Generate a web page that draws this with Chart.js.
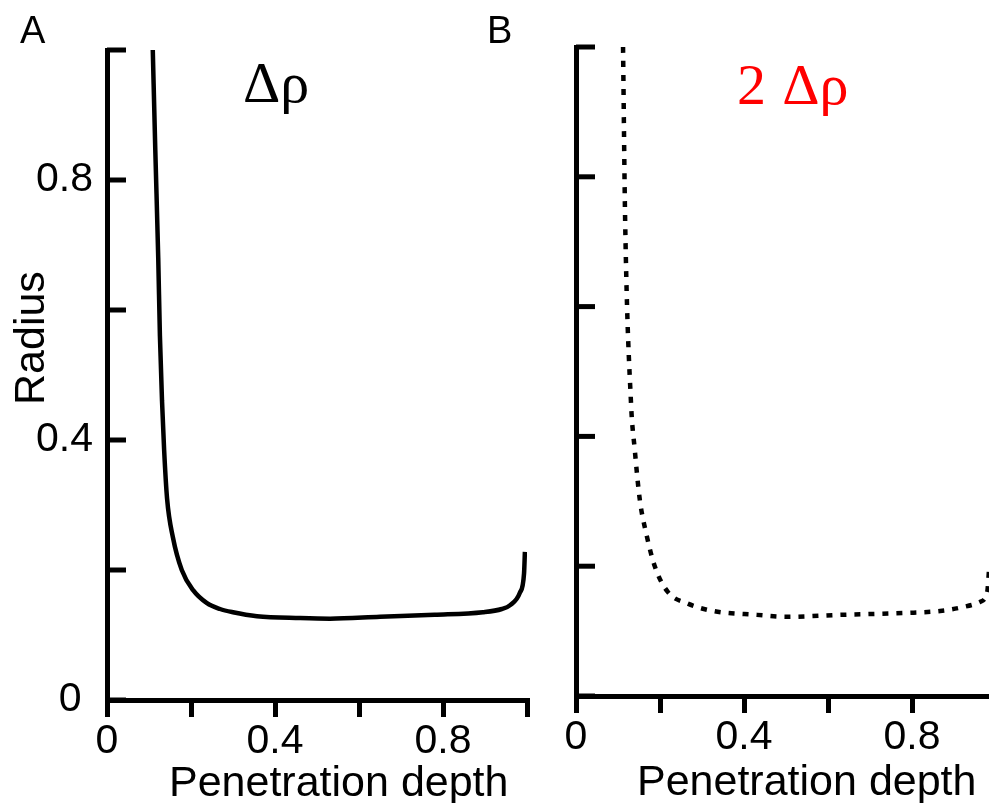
<!DOCTYPE html>
<html>
<head>
<meta charset="utf-8">
<script src="https://cdn.jsdelivr.net/npm/chart.js@4.4.1/dist/chart.umd.min.js"></script>
<style>
  html, body { margin: 0; padding: 0; background: #fff; overflow: hidden; }
  #page { position: relative; width: 989px; height: 803px; overflow: hidden; }
  .txt { position: absolute; line-height: 1; white-space: nowrap; color: #000; }
  .sans { font-family: "Liberation Sans", Arial, sans-serif; }
  .serif { font-family: "Liberation Serif", "Times New Roman", serif; }
  #chartA { position: absolute; left: 0; top: 0; }
  #wrapB { position: absolute; left: 540px; top: 0; width: 449px; height: 803px; overflow: hidden; }
  #chartB { position: absolute; left: 0; top: 0; }
</style>
</head>
<body>
<div id="page">
  <canvas id="chartA" width="545" height="803"></canvas>
  <div id="wrapB"><canvas id="chartB" width="470" height="803"></canvas></div>

  <div class="txt sans" style="left:20px; top:11px; font-size:38px;">A</div>
  <div class="txt sans" style="left:487px; top:11px; font-size:38px;">B</div>
  <div class="txt serif" style="left:243px; top:54px; font-size:58px;">Δρ</div>
  <div class="txt serif" style="left:737px; top:56px; font-size:58px; word-spacing:5px; color:#ff0000;">2 Δρ</div>
  <div class="txt sans" style="left:8px; top:405px; font-size:43px; transform-origin:0 0; transform:rotate(-90deg);">Radius</div>
  <div class="txt sans" style="left:169px; top:760px; font-size:43px;">Penetration depth</div>
  <div class="txt sans" style="left:637px; top:759px; font-size:43px;">Penetration depth</div>
</div>

<script>
// tick positions and labels (same for both panels)
const xTickValues = [0, 0.2, 0.4, 0.6, 0.8, 1];
const xTickLabels = ['0', '', '0.4', '', '0.8', ''];
const yTickValues = [0, 0.2, 0.4, 0.6, 0.8, 1];
const yTickLabels = ['0', '', '0.4', '', '0.8', ''];

// panel A: delta rho (solid)
const depthA  = [0.109, 0.115, 0.122, 0.126, 0.131, 0.136, 0.143, 0.157, 0.178, 0.205, 0.238, 0.269, 0.300, 0.357, 0.460, 0.531, 0.650, 0.780, 0.895, 0.940, 0.960, 0.983, 0.993, 0.995];
const radiusA = [1.000, 0.846, 0.680, 0.560, 0.460, 0.385, 0.310, 0.250, 0.200, 0.169, 0.149, 0.140, 0.135, 0.129, 0.126, 0.125, 0.128, 0.131, 0.135, 0.140, 0.146, 0.165, 0.195, 0.228];

// panel B: 2 delta rho (dotted)
const depthB  = [0.112, 0.117, 0.131, 0.140, 0.152, 0.167, 0.188, 0.219, 0.264, 0.326, 0.431, 0.502, 0.629, 0.788, 0.867, 0.921, 0.962, 0.979, 0.984];
const radiusB = [1.000, 0.733, 0.451, 0.379, 0.302, 0.251, 0.199, 0.160, 0.143, 0.131, 0.125, 0.122, 0.125, 0.128, 0.131, 0.137, 0.145, 0.160, 0.200];

const tickFont = { family: '"Liberation Sans", Arial, sans-serif', size: 41 };

// y ticks in the figure point inwards, so draw them over the plot area
const innerTicks = {
  id: 'innerTicks',
  afterDraw(chart) {
    const ctx = chart.ctx;
    const y = chart.scales.y;
    const left = chart.chartArea.left;
    ctx.save();
    ctx.strokeStyle = '#000';
    ctx.lineWidth = 5;
    yTickValues.forEach(v => {
      const py = y.getPixelForValue(v);
      ctx.beginPath();
      ctx.moveTo(left, py);
      ctx.lineTo(left + 19, py);
      ctx.stroke();
    });
    ctx.restore();
  }
};

const makePanel = (canvas, xs, ys, dash, pad, yWidth, xHeight, showYLabels) => {
  return new Chart(canvas, {
    type: 'line',
    data: {
      datasets: [{
        data: xs.map((x, i) => ({ x: x, y: ys[i] })),
        borderColor: '#000',
        borderWidth: 4.5,
        borderDash: dash,
        pointRadius: 0,
        fill: false,
        cubicInterpolationMode: 'monotone'
      }]
    },
    options: {
      responsive: false,
      animation: false,
      devicePixelRatio: 1,
      events: [],
      layout: { padding: pad },
      plugins: { legend: { display: false }, tooltip: { enabled: false } },
      scales: {
        x: {
          type: 'linear',
          min: 0,
          max: 1,
          afterBuildTicks: s => { s.ticks = xTickValues.map(v => ({ value: v })); },
          afterFit: s => { s.height = xHeight; s.paddingLeft = 0; s.paddingRight = 0; },
          ticks: {
            autoSkip: false,
            maxRotation: 0,
            padding: 0,
            color: '#000',
            font: tickFont,
            callback: (v, i) => xTickLabels[i]
          },
          grid: { drawOnChartArea: false, drawTicks: true, tickLength: 17, lineWidth: 5, color: '#000' },
          border: { display: true, width: 5, color: '#000' }
        },
        y: {
          type: 'linear',
          min: 0,
          max: 1,
          afterBuildTicks: s => { s.ticks = yTickValues.map(v => ({ value: v })); },
          afterFit: s => { s.width = yWidth; s.paddingTop = 0; s.paddingBottom = 0; },
          ticks: {
            display: showYLabels,
            autoSkip: false,
            padding: 6,
            color: '#000',
            font: tickFont,
            // the zero label sits a bit away from the axis corner
            callback: (v, i) => i === 0 ? yTickLabels[i] + ' ' : yTickLabels[i]
          },
          grid: { display: false },
          border: { display: true, width: 5, color: '#000' }
        }
      }
    },
    plugins: [innerTicks]
  });
};

const chartA = makePanel(document.getElementById('chartA'), depthA, radiusA, [],
  { top: 50, right: 18, left: 0, bottom: 0 }, 107, 103, true);
const chartB = makePanel(document.getElementById('chartB'), depthB, radiusB, [6, 8],
  { top: 47, right: 14, left: 0, bottom: 0 }, 36, 107, false);
</script>
</body>
</html>
